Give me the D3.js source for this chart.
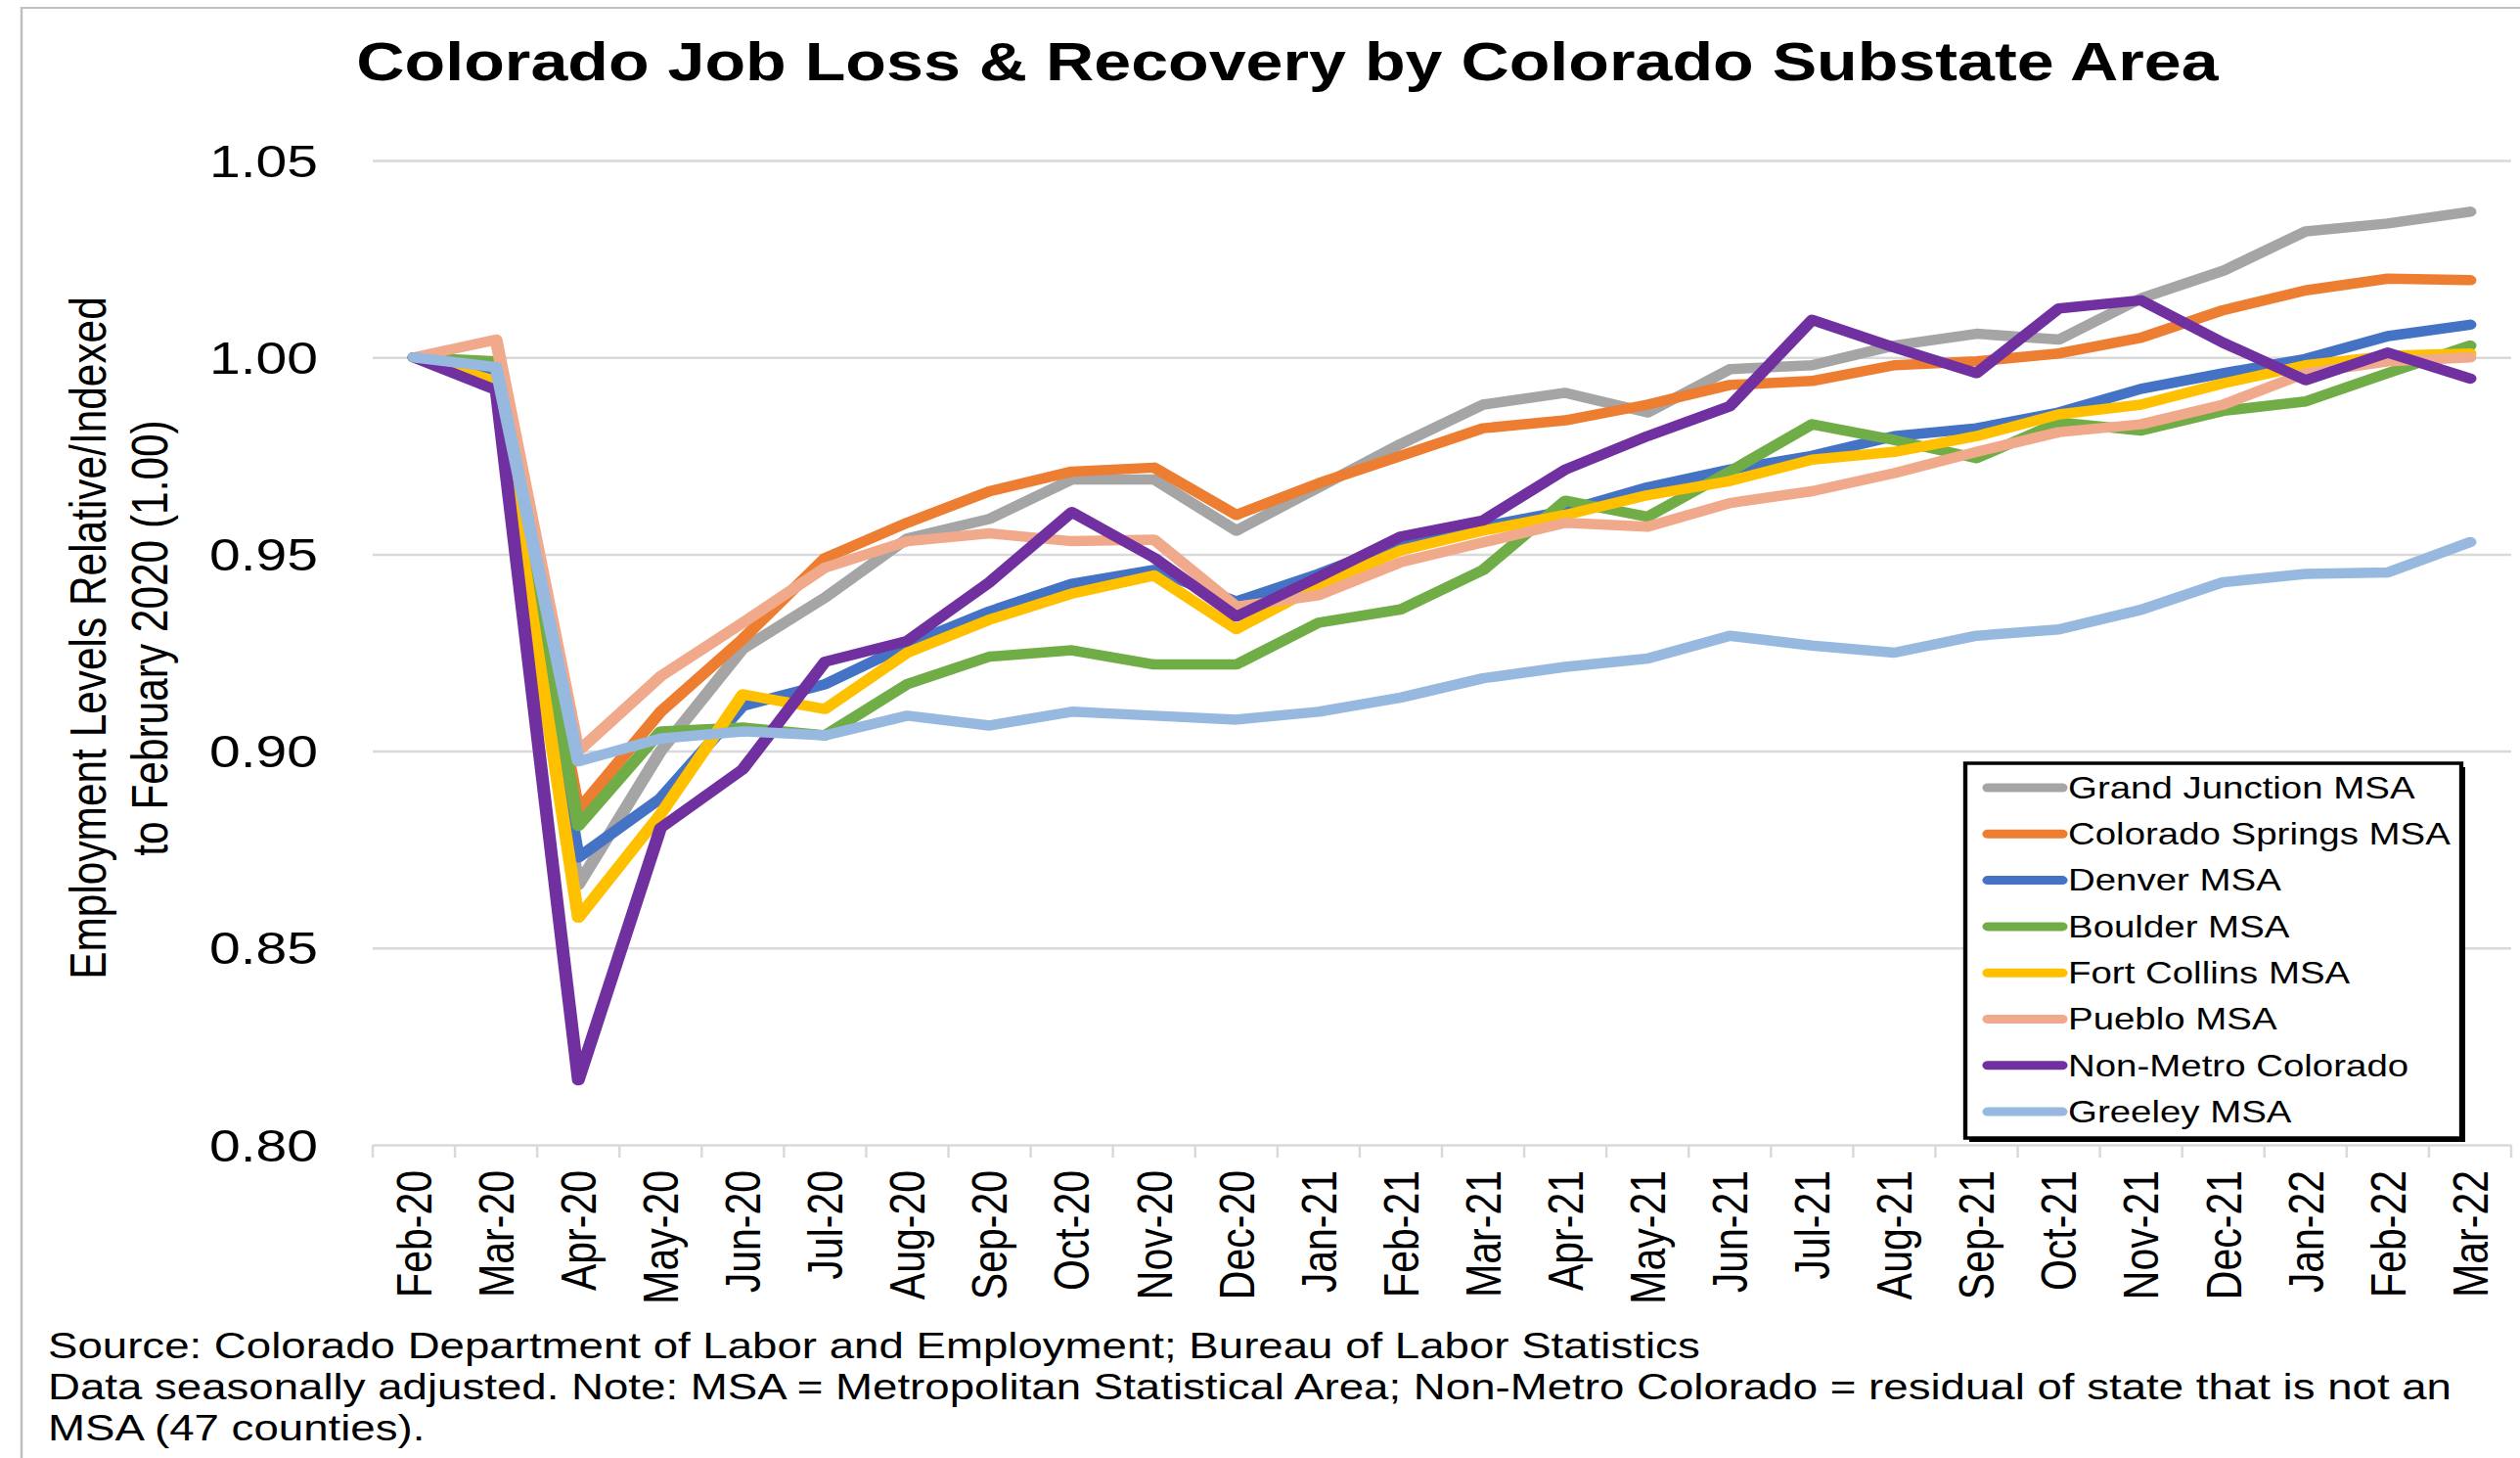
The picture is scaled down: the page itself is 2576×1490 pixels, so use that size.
<!DOCTYPE html>
<html>
<head>
<meta charset="utf-8">
<script src="https://cdn.jsdelivr.net/npm/d3@7"></script>
<style>
	html, body { margin: 0; padding: 0; background: #fff; }
	svg { display: block; }
	text { font-family: "Liberation Sans", Arial, sans-serif; fill: #000; }
</style>
</head>
<body>
<svg id="chart"></svg>
<script>
const months = ['Feb-20', 'Mar-20', 'Apr-20', 'May-20', 'Jun-20', 'Jul-20', 'Aug-20', 'Sep-20', 'Oct-20',
	'Nov-20', 'Dec-20', 'Jan-21', 'Feb-21', 'Mar-21', 'Apr-21', 'May-21', 'Jun-21', 'Jul-21', 'Aug-21',
	'Sep-21', 'Oct-21', 'Nov-21', 'Dec-21', 'Jan-22', 'Feb-22', 'Mar-22'];

const grandJunction = [1.000, 0.996, 0.866, 0.900, 0.926, 0.939, 0.954, 0.959, 0.969, 0.969, 0.956, 0.967, 0.978,
	0.988, 0.991, 0.986, 0.997, 0.998, 1.003, 1.006, 1.0045, 1.015, 1.022, 1.032, 1.034, 1.037];
const coloradoSprings = [1.000, 0.996, 0.885, 0.910, 0.9285, 0.949, 0.958, 0.966, 0.971, 0.972, 0.960, 0.968, 0.975,
	0.982, 0.984, 0.988, 0.993, 0.994, 0.998, 0.999, 1.001, 1.005, 1.012, 1.017, 1.020, 1.0196];
const denver = [1.000, 0.996, 0.873, 0.888, 0.9115, 0.917, 0.927, 0.9355, 0.9425, 0.946, 0.938, 0.945, 0.953,
	0.957, 0.961, 0.967, 0.9715, 0.975, 0.980, 0.982, 0.986, 0.992, 0.996, 0.9996, 1.0054, 1.0083];
const boulder = [1.000, 0.999, 0.881, 0.905, 0.906, 0.904, 0.917, 0.924, 0.9256, 0.922, 0.922, 0.9326, 0.936,
	0.946, 0.9636, 0.9595, 0.971, 0.983, 0.979, 0.9744, 0.9835, 0.9814, 0.9864, 0.9888, 0.996, 1.003];
const fortCollins = [1.000, 0.994, 0.8577, 0.884, 0.9144, 0.9107, 0.925, 0.9334, 0.940, 0.9446, 0.931, 0.942, 0.951,
	0.956, 0.960, 0.965, 0.9686, 0.974, 0.976, 0.980, 0.9855, 0.988, 0.9934, 0.998, 1.0004, 1.001];
const pueblo = [1.000, 1.0045, 0.900, 0.919, 0.9326, 0.9466, 0.9533, 0.9553, 0.9533, 0.9537, 0.9367, 0.9396, 0.948,
	0.953, 0.958, 0.957, 0.963, 0.966, 0.9706, 0.976, 0.981, 0.983, 0.988, 0.996, 0.999, 1.000];
const nonMetro = [1.000, 0.9917, 0.8164, 0.8805, 0.8954, 0.9227, 0.928, 0.9429, 0.9607, 0.9491, 0.9342, 0.9442, 0.9545,
	0.9586, 0.9715, 0.980, 0.9876, 1.0095, 1.0025, 0.996, 1.0124, 1.0145, 1.0037, 0.9942, 1.0012, 0.9946];
const greeley = [1.000, 0.9975, 0.8974, 0.9032, 0.905, 0.904, 0.909, 0.9065, 0.910, 0.909, 0.908, 0.910, 0.9136,
	0.9185, 0.9214, 0.9235, 0.9293, 0.9268, 0.925, 0.9293, 0.9309, 0.9359, 0.9429, 0.945, 0.9454, 0.9531];

const seriesNames = ['Grand Junction MSA', 'Colorado Springs MSA', 'Denver MSA', 'Boulder MSA',
	'Fort Collins MSA', 'Pueblo MSA', 'Non-Metro Colorado', 'Greeley MSA'];
const seriesValues = [grandJunction, coloradoSprings, denver, boulder, fortCollins, pueblo, nonMetro, greeley];
const seriesColors = ['#A5A5A5', '#ED7D31', '#4472C4', '#70AD47', '#FFC000', '#F0A98A', '#7030A0', '#97B9E0'];

const yTicks = [0.80, 0.85, 0.90, 0.95, 1.00, 1.05];

const titleText = 'Colorado Job Loss & Recovery by Colorado Substate Area';
const yTitleLines = ['Employment Levels Relative/Indexed', 'to February 2020 (1.00)'];
const footLines = [
	'Source: Colorado Department of Labor and Employment; Bureau of Labor Statistics',
	'Data seasonally adjusted. Note: MSA = Metropolitan Statistical Area; Non-Metro Colorado = residual of state that is not an',
	'MSA (47 counties).'
];

// the original picture is stretched sideways, so the whole drawing is too
const W = 2576, H = 1490, SX = 1.24;
const sx = (v) => v / SX;

const svg = d3.select('#chart')
	.attr('width', W)
	.attr('height', H)
	.attr('viewBox', `0 0 ${W / SX} ${H}`)
	.attr('preserveAspectRatio', 'none');

const plot = { left: 381, right: 2567, top: 164, bottom: 1170 };

const x = d3.scaleBand().domain(months).range([sx(plot.left), sx(plot.right)]);
const y = d3.scaleLinear().domain([0.80, 1.05]).range([plot.bottom, plot.top]);
const cx = (m) => x(m) + x.bandwidth() / 2;

// chart area frame (right and bottom edges are cut off in the original)
svg.append('rect')
	.attr('x', sx(22)).attr('y', 8)
	.attr('width', sx(W)).attr('height', H)
	.attr('fill', 'none').attr('stroke', '#BFBFBF').attr('stroke-width', 2);

// Title
svg.append('text')
	.attr('x', sx(1316)).attr('y', 82)
	.attr('text-anchor', 'middle')
	.style('font-size', '55px').style('font-weight', 'bold')
	.text(titleText);

// Y axis with gridlines
const yAxis = svg.append('g')
	.attr('transform', `translate(${sx(plot.left)},0)`)
	.call(d3.axisLeft(y)
		.tickValues(yTicks)
		.tickFormat(d3.format('.2f'))
		.tickSizeInner(-(sx(plot.right) - sx(plot.left)))
		.tickSizeOuter(0)
		.tickPadding(sx(56)));
yAxis.select('.domain').remove();
yAxis.selectAll('.tick line').attr('stroke', '#D9D9D9').attr('stroke-width', 2.5);
yAxis.selectAll('.tick text')
	.attr('fill', '#000')
	.style('font-size', '46px')
	.attr('dy', '0.35em');

// category tick marks under the baseline
svg.append('g')
	.selectAll('line')
	.data(months.concat(['end']))
	.join('line')
	.attr('x1', (d) => d === 'end' ? x.range()[1] : x(d))
	.attr('x2', (d) => d === 'end' ? x.range()[1] : x(d))
	.attr('y1', plot.bottom)
	.attr('y2', plot.bottom + 13)
	.attr('stroke', '#D9D9D9')
	.attr('stroke-width', sx(2.5));

// X labels, rotated
const xAxis = svg.append('g')
	.attr('transform', `translate(0,${plot.bottom})`)
	.call(d3.axisBottom(x).tickSize(0).tickPadding(0));
xAxis.select('.domain').remove();
xAxis.selectAll('.tick text')
	.attr('fill', '#000')
	.style('font-size', '41px')
	.attr('text-anchor', 'end')
	.attr('transform', 'translate(0,26) rotate(-90)')
	.attr('x', 0)
	.attr('y', 0)
	.attr('dy', '0.35em');

// Y axis title
svg.append('g')
	.selectAll('text')
	.data(yTitleLines)
	.join('text')
	.attr('transform', (d, i) => `translate(${sx(i === 0 ? 108 : 171)},652) rotate(-90)`)
	.attr('text-anchor', 'middle')
	.style('font-size', '42.4px')
	.text((d) => d);

// Lines
const line = d3.line()
	.x((d, i) => cx(months[i]))
	.y((d) => y(d));

svg.append('g')
	.selectAll('path')
	.data(seriesValues)
	.join('path')
	.attr('d', (d) => line(d))
	.attr('fill', 'none')
	.attr('stroke', (d, i) => seriesColors[i])
	.attr('stroke-width', 10.5)
	.attr('stroke-linejoin', 'round')
	.attr('stroke-linecap', 'round');

// Legend
const legend = { left: 2009, right: 2516, top: 780, bottom: 1163 };
svg.append('rect')
	.attr('x', sx(legend.left + 4)).attr('y', legend.top + 4)
	.attr('width', sx(legend.right - legend.left)).attr('height', legend.bottom - legend.top)
	.attr('fill', '#000');
svg.append('rect')
	.attr('x', sx(legend.left)).attr('y', legend.top)
	.attr('width', sx(legend.right - legend.left)).attr('height', legend.bottom - legend.top)
	.attr('fill', '#fff').attr('stroke', '#000').attr('stroke-width', 3.5);

const legendRows = svg.append('g')
	.selectAll('g')
	.data(seriesNames)
	.join('g')
	.attr('transform', (d, i) => `translate(0,${805 + i * 47.3})`);
legendRows.append('line')
	.attr('x1', sx(2032)).attr('x2', sx(2108))
	.attr('stroke', (d, i) => seriesColors[i])
	.attr('stroke-width', 9)
	.attr('stroke-linecap', 'round');
legendRows.append('text')
	.attr('x', sx(2114))
	.attr('dy', '0.35em')
	.style('font-size', '31px')
	.text((d) => d);

// Footnote
svg.append('g')
	.selectAll('text')
	.data(footLines)
	.join('text')
	.attr('x', sx(49))
	.attr('y', (d, i) => [1388, 1430, 1472][i])
	.style('font-size', '36.8px')
	.text((d) => d);
</script>
</body>
</html>
